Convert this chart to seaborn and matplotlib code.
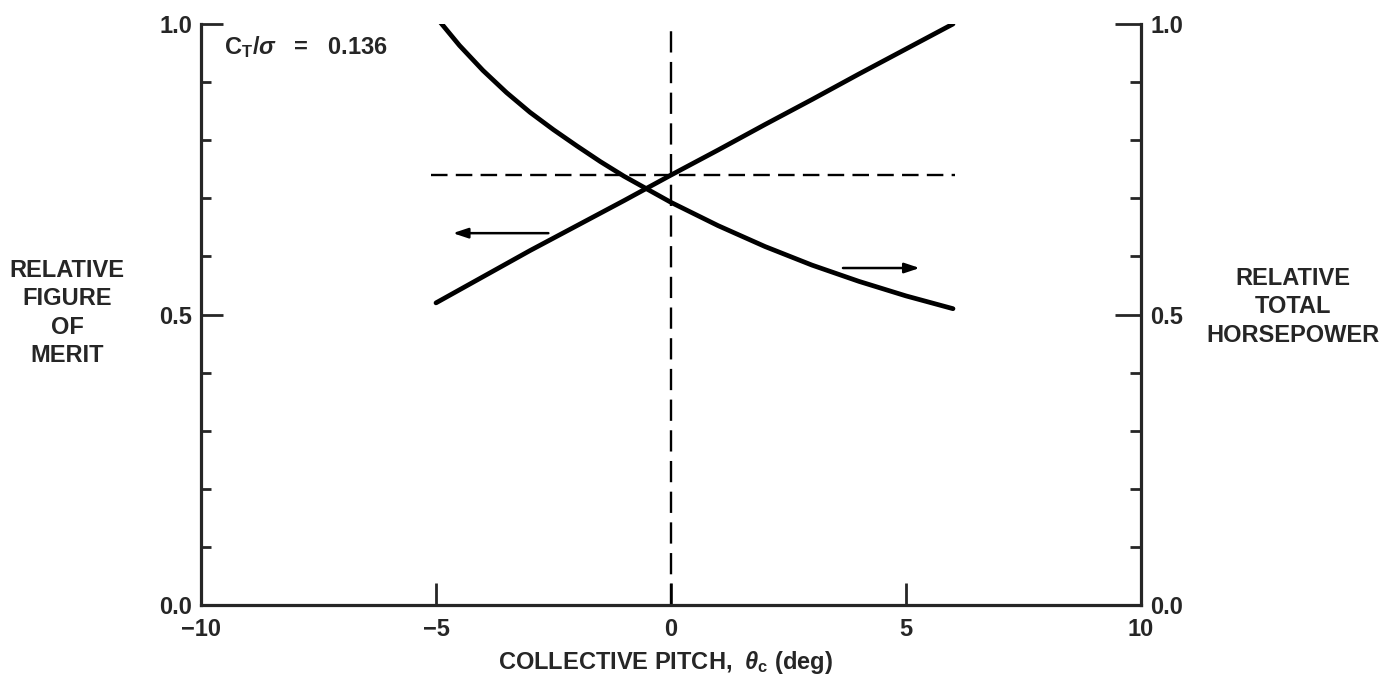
import matplotlib
matplotlib.use("Agg")
import matplotlib.pyplot as plt
from matplotlib.ticker import MultipleLocator, FixedLocator
import seaborn as sns
import pandas as pd

# ---- data ----
fm_pitch = [-5, -4, -3, -2, -1, 0, 1, 2, 3, 4, 5, 6]
figure_of_merit = [0.52, 0.565, 0.61, 0.653, 0.696, 0.74, 0.783, 0.827, 0.87, 0.914, 0.957, 1.0]
hp_pitch = [-5, -4.5, -4, -3.5, -3, -2.5, -2, -1.5, -1, 0, 1, 2, 3, 4, 5, 6]
total_horsepower = [1.012, 0.963, 0.92, 0.882, 0.848, 0.818, 0.79, 0.763, 0.738, 0.693,
                    0.653, 0.617, 0.585, 0.557, 0.532, 0.51]
ref_pitch = 0.0
ref_level = 0.74
ref_span = [-5.1, 6.05]
xticks = [-10, -5, 0, 5, 10]
xticklabels = ["\u221210", "\u22125", "0", "5", "10"]
yticks = [0.0, 0.5, 1.0]
yticklabels = ["0.0", "0.5", "1.0"]
ratio_text = r"C$_{\mathbf{T}}$/$\sigma$   =   0.136"
left_label = "RELATIVE\nFIGURE\nOF\nMERIT"
right_label = "RELATIVE\nTOTAL\nHORSEPOWER"
x_label = r"COLLECTIVE PITCH,  $\theta_{\mathbf{c}}$ (deg)"

sns.set_style("ticks")
plt.rcParams["font.family"] = ["Liberation Sans", "DejaVu Sans"]
plt.rcParams["font.weight"] = "bold"
plt.rcParams["mathtext.fontset"] = "custom"
plt.rcParams["mathtext.rm"] = "Liberation Sans:bold"
plt.rcParams["mathtext.bf"] = "Liberation Sans:bold"
plt.rcParams["mathtext.it"] = "Liberation Sans:italic"

FS = 17
fig = plt.figure(figsize=(13.98, 6.81), dpi=100)
ax = fig.add_axes([201 / 1398, 1 - 605 / 681, (1141 - 201) / 1398, (605 - 24) / 681])
ax2 = ax.twinx()

df_fm = pd.DataFrame({"pitch": fm_pitch, "value": figure_of_merit})
df_hp = pd.DataFrame({"pitch": hp_pitch, "value": total_horsepower})
sns.lineplot(data=df_fm, x="pitch", y="value", ax=ax, color="black", lw=3.4, sort=False)
sns.lineplot(data=df_hp, x="pitch", y="value", ax=ax2, color="black", lw=3.4, sort=False)

ax.plot(ref_span, [ref_level, ref_level], color="black", lw=1.7, dashes=(7, 3.5))
ax.plot([ref_pitch, ref_pitch], [0, 1.0], color="black", lw=1.7, dashes=(9, 4))

ax.annotate("", xy=(-4.7, 0.64), xytext=(-2.55, 0.64),
            arrowprops=dict(arrowstyle="-|>,head_length=0.9,head_width=0.3", color="black", lw=1.8))
ax.annotate("", xy=(5.35, 0.58), xytext=(3.6, 0.58),
            arrowprops=dict(arrowstyle="-|>,head_length=0.9,head_width=0.3", color="black", lw=1.8))

ax.text(-9.5, 0.96, ratio_text, fontsize=FS, fontweight="bold", va="center", ha="left")

for a in (ax, ax2):
    a.set_xlim(-10, 10)
    a.set_ylim(0, 1.0)
    a.set_xlabel("")
    a.set_ylabel("")
    a.spines["top"].set_visible(False)
    for s in ("left", "right", "bottom"):
        a.spines[s].set_linewidth(2.3)

ax.spines["right"].set_visible(False)
ax2.spines["left"].set_visible(False)
ax2.spines["bottom"].set_visible(False)

ax.xaxis.set_major_locator(FixedLocator(xticks))
ax.set_xticklabels(xticklabels)
ax.tick_params(axis="x", direction="in", length=16, width=2.0, pad=9, labelsize=FS)
ax.yaxis.set_major_locator(FixedLocator(yticks))
ax.yaxis.set_minor_locator(MultipleLocator(0.1))
ax.set_yticklabels(yticklabels)
ax.tick_params(axis="y", which="major", direction="in", length=16, width=2.0, pad=6.5, labelsize=FS)
ax.tick_params(axis="y", which="minor", direction="in", length=7.5, width=2.0)

ax2.yaxis.set_major_locator(FixedLocator(yticks))
ax2.yaxis.set_minor_locator(MultipleLocator(0.1))
ax2.set_yticklabels(yticklabels)
ax2.tick_params(axis="y", which="major", direction="in", length=19, width=2.0, pad=6.5, labelsize=FS)
ax2.tick_params(axis="y", which="minor", direction="in", length=8, width=2.0)

for lab in ax.get_xticklabels() + ax.get_yticklabels() + ax2.get_yticklabels():
    lab.set_fontweight("bold")

fig.text(67 / 1398, 1 - 313 / 681, left_label, ha="center", va="center",
         fontsize=FS, fontweight="bold", linespacing=1.3, multialignment="center")
fig.text(1293 / 1398, 1 - 307 / 681, right_label, ha="center", va="center",
         fontsize=FS, fontweight="bold", linespacing=1.3, multialignment="center")
fig.text(665 / 1398, 1 - 663 / 681, x_label, ha="center", va="center",
         fontsize=FS, fontweight="bold")

fig.savefig("out.png", dpi=100)
